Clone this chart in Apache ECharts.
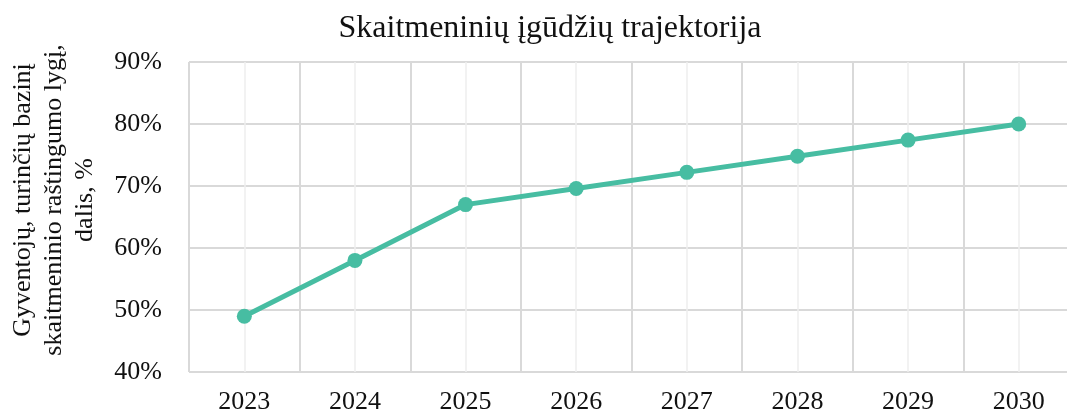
<!DOCTYPE html>
<html><head><meta charset="utf-8">
<script src="https://cdn.jsdelivr.net/npm/echarts@6/dist/echarts.min.js"></script>
<style>html,body{margin:0;padding:0;background:#fff}#c{width:1067px;height:415px}</style>
</head><body><div id="c"></div>
<script>
const categories = ['2023','2024','2025','2026','2027','2028','2029','2030'];
const values = [49, 58, 67, 69.6, 72.2, 74.8, 77.4, 80];
const yTicks = { min: 40, max: 90, interval: 10 };
const titleText = 'Skaitmeninių įgūdžių trajektorija';
const yName = 'Gyventojų, turinčių bazinį\nskaitmeninio raštingumo lygį,\ndalis, %';

const serif = '"Liberation Serif", "Times New Roman", serif';
const chart = echarts.init(document.getElementById('c'), null, { renderer: 'canvas' });
chart.setOption({
  animation: false,
  title: { text: titleText, left: 545, top: 8, textAlign: 'center',
    textStyle: { fontFamily: serif, fontSize: 32, fontWeight: 'normal', color: '#111' } },
  grid: { left: 189, top: 62, right: -7, bottom: 43, containLabel: false, outerBoundsMode: 'none' },
  xAxis: [
    { type: 'category', data: categories, boundaryGap: true,
      axisLine: { show: false }, axisTick: { show: false },
      axisLabel: { fontFamily: serif, fontSize: 26, color: '#111', margin: 17 },
      splitLine: { show: false } },
    { type: 'value', min: 0, max: categories.length, interval: 1, position: 'bottom',
      axisLine: { show: false }, axisTick: { show: false }, axisLabel: { show: false },
      splitLine: { show: true, lineStyle: { color: '#d9d9d9', width: 2 } },
      minorTick: { show: false, splitNumber: 2 },
      minorSplitLine: { show: true, lineStyle: { color: '#eeeeee', width: 1.5 } } }
  ],
  yAxis: {
    type: 'value', min: yTicks.min, max: yTicks.max, interval: yTicks.interval,
    name: yName, nameLocation: 'middle', nameGap: 88, nameRotate: 90,
    nameTextStyle: { fontFamily: serif, fontSize: 26, color: '#111', lineHeight: 31, align: 'center', padding: [0, 0, 0, 34] },
    axisLine: { show: false }, axisTick: { show: false },
    axisLabel: { fontFamily: serif, fontSize: 26, color: '#111', margin: 27, formatter: '{value}%' },
    splitLine: { show: true, lineStyle: { color: '#d9d9d9', width: 2 } }
  },
  series: [{
    type: 'line', xAxisIndex: 0, data: values,
    symbol: 'circle', symbolSize: 15,
    lineStyle: { color: '#47bda2', width: 5 },
    itemStyle: { color: '#47bda2' }
  }]
});
</script></body></html>
